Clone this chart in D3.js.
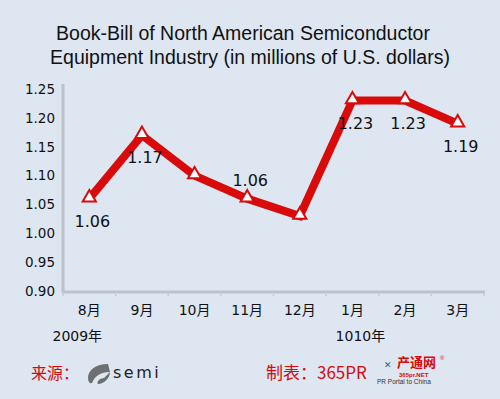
<!DOCTYPE html>
<html>
<head>
<meta charset="utf-8">
<script src="https://cdn.jsdelivr.net/npm/d3@7"></script>
<style>
  body { margin: 0; background: #dde6f1; }
  svg { display: block; font-family: "Liberation Sans", Arial, "Noto Sans CJK SC", sans-serif; }
</style>
</head>
<body>
<div id="chart"></div>
<script>
// chart data
const months = ["8月", "9月", "10月", "11月", "12月", "1月", "2月", "3月"];
const values = [1.06, 1.17, 1.10, 1.06, 1.03, 1.23, 1.23, 1.19];
// which points carry a value label, and where (1 = below, -1 = above, 0 = none)
const labelSide = [1, 1, 0, -1, 0, 1, 1, 1];
const yTicks = [0.90, 0.95, 1.00, 1.05, 1.10, 1.15, 1.20, 1.25];
const years = [{ text: "2009年", at: "8月" }, { text: "1010年", at: "1月" }];

const W = 500, H = 399;
const red = "#d80a0a";

const svg = d3.select("#chart").append("svg")
  .attr("width", W).attr("height", H);

svg.append("rect").attr("width", W).attr("height", H).attr("fill", "#dde6f1");

// title
const title = svg.append("text")
  .attr("text-anchor", "middle")
  .style("font-size", "19.5px")
  .attr("fill", "#111");
title.append("tspan").attr("x", 243).attr("y", 40)
  .text("Book-Bill of North American Semiconductor");
title.append("tspan").attr("x", 250).attr("y", 64)
  .text("Equipment Industry (in millions of U.S. dollars)");

// scales
const x = d3.scaleBand().domain(months).range([63, 484]);
const y = d3.scaleLinear().domain([0.90, 1.25]).range([291, 89]);

// y axis
const yAxis = svg.append("g")
  .attr("transform", "translate(63,0)")
  .call(d3.axisLeft(y).tickValues(yTicks).tickFormat(d3.format(".2f")).tickSize(0).tickPadding(8));
yAxis.select(".domain").attr("stroke", "#bcc1ca").attr("stroke-width", 3)
  .attr("d", "M0,84V293");
yAxis.selectAll("text").attr("fill", "#111")
  .style("font-family", "'DejaVu Sans', sans-serif").style("font-size", "13.5px");

// x axis
const xAxis = svg.append("g")
  .attr("transform", "translate(0,292)")
  .call(d3.axisBottom(x).tickSize(0).tickPadding(13));
xAxis.select(".domain").attr("stroke", "#bcc1ca").attr("stroke-width", 3)
  .attr("d", "M62,0H485");
xAxis.selectAll("text").attr("fill", "#111")
  .style("font-family", "'DejaVu Sans', 'Noto Sans CJK SC', sans-serif").style("font-size", "14px");

// small tick marks at band boundaries
svg.append("g").selectAll("line")
  .data(months.concat(["end"]))
  .join("line")
  .attr("x1", (d, i) => i < months.length ? x(d) : x.range()[1])
  .attr("x2", (d, i) => i < months.length ? x(d) : x.range()[1])
  .attr("y1", 292).attr("y2", 296)
  .attr("stroke", "#c8ccd3").attr("stroke-width", 1.5);

// year labels
svg.append("g").selectAll("text")
  .data(years)
  .join("text")
  .attr("x", d => x(d.at) + x.bandwidth() / 2 - (d.at === "8月" ? 12 : -8))
  .attr("y", 341)
  .attr("text-anchor", "middle")
  .attr("fill", "#111")
  .style("font-family", "'DejaVu Sans', 'Noto Sans CJK SC', sans-serif")
  .style("font-size", "14px")
  .text(d => d.text);

// line
const cx = (d, i) => x(months[i]) + x.bandwidth() / 2;
svg.append("path")
  .datum(values)
  .attr("fill", "none")
  .attr("stroke", red)
  .attr("stroke-width", 8)
  .attr("stroke-linejoin", "miter")
  .attr("d", d3.line().x(cx).y(d => y(d)));

// markers
svg.append("g").selectAll("path")
  .data(values)
  .join("path")
  .attr("transform", (d, i) => `translate(${cx(d, i)},${y(d) - 1})`)
  .attr("d", d3.symbol().type(d3.symbolTriangle).size(75))
  .attr("fill", "#fff")
  .attr("stroke", red)
  .attr("stroke-width", 2);

// value labels
svg.append("g").selectAll("text")
  .data(values.map((v, i) => ({ v, i })).filter(d => labelSide[d.i] !== 0))
  .join("text")
  .attr("x", d => cx(d.v, d.i) + 3)
  .attr("y", d => y(d.v) + (labelSide[d.i] > 0 ? 28 : -13))
  .attr("text-anchor", "middle")
  .attr("fill", "#111")
  .style("font-family", "'DejaVu Sans', sans-serif")
  .style("font-size", "16px")
  .text(d => d3.format(".2f")(d.v));

// footer: source
svg.append("text")
  .attr("x", 31).attr("y", 379)
  .attr("fill", red)
  .style("font-family", "'Noto Sans CJK SC', sans-serif")
  .style("font-size", "16px")
  .text("来源：");

// semi logo (swoosh + wordmark)
const semi = svg.append("g");
semi.append("path")
  .attr("d", "M108,364 C96,364 88,370 88,378 C88,382 90,384 92,383 C95,376 100,372 110,372 L104,378 C100,378 96,382 98,384 C104,384 110,378 110,372 Z")
  .attr("fill", "#6d6f72");
semi.append("text")
  .attr("x", 113).attr("y", 378)
  .attr("fill", "#222")
  .style("font-family", "'DejaVu Sans', sans-serif")
  .style("font-size", "16px")
  .style("letter-spacing", "2.5px")
  .text("semi");

// footer: made by
svg.append("text")
  .attr("x", 266).attr("y", 379)
  .attr("fill", red)
  .style("font-family", "'Noto Sans CJK SC', sans-serif")
  .style("font-size", "17px")
  .text("制表：365PR");

// 365pr logo
const logo = svg.append("g");
logo.append("text")
  .attr("x", 384).attr("y", 368)
  .attr("fill", "#555")
  .style("font-size", "9px")
  .text("✕");
logo.append("text")
  .attr("x", 397).attr("y", 367)
  .attr("fill", red)
  .style("font-family", "'Noto Sans CJK SC', sans-serif")
  .style("font-size", "13px")
  .style("font-weight", "bold")
  .text("产通网");
logo.append("text")
  .attr("x", 440).attr("y", 360)
  .attr("fill", red)
  .style("font-size", "6px")
  .text("®");
logo.append("text")
  .attr("x", 399).attr("y", 377)
  .attr("fill", red)
  .style("font-size", "6px")
  .style("font-weight", "bold")
  .text("365pr.NET");
logo.append("text")
  .attr("x", 377).attr("y", 384)
  .attr("fill", "#333")
  .style("font-size", "6.5px")
  .text("PR Portal to China");
</script>
</body>
</html>
